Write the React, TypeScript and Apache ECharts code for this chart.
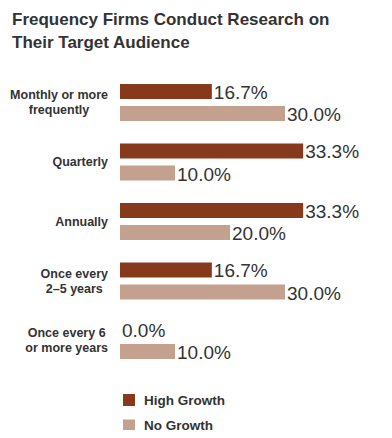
import React, { useEffect, useRef } from "react";
import * as echarts from "echarts";

const categories = [
  "Monthly or more\nfrequently",
  "Quarterly",
  "Annually",
  "Once every\n2–5 years",
  "Once every 6\nor more years",
];
const highGrowth = [16.7, 33.3, 33.3, 16.7, 0.0];
const noGrowth = [30.0, 10.0, 20.0, 30.0, 10.0];
const seriesNames = ["High Growth", "No Growth"];
const titleText = "Frequency Firms Conduct Research on\nTheir Target Audience";

const FONT = "'Liberation Sans', Arial, Helvetica, sans-serif";

export default function App() {
  const ref = useRef<HTMLDivElement>(null);
  useEffect(() => {
    if (!ref.current) return;
    const chart = echarts.init(ref.current, null, { renderer: "svg" });
    const labelStyle = {
      show: true,
      position: "right",
      distance: 2,
      offset: [0, 1],
      fontFamily: FONT,
      fontSize: 19,
      color: "#333333",
      formatter: (p: any) => Number(p.value).toFixed(1) + "%",
    };
    chart.setOption({
      animation: false,
      backgroundColor: "#ffffff",
      title: {
        text: titleText,
        left: 12,
        top: 8,
        padding: 0,
        textStyle: {
          fontFamily: FONT,
          fontSize: 17,
          fontWeight: "bold",
          color: "#333333",
          lineHeight: 23,
        },
      },
      legend: {
        orient: "vertical",
        left: 123,
        top: 393,
        height: 45,
        padding: 0,
        itemWidth: 12,
        itemHeight: 12,
        itemGap: 11.5,
        icon: "rect",
        data: seriesNames,
        textStyle: {
          fontFamily: FONT,
          fontSize: 13.5,
          lineHeight: 14,
          fontWeight: "bold",
          color: "#333333",
          padding: [0, 0, 0, 4],
        },
      },
      grid: { left: 120, top: 72.75, width: 220, height: 297.5 },
      xAxis: {
        type: "value",
        min: 0,
        max: 40,
        show: false,
      },
      yAxis: {
        type: "category",
        inverse: true,
        data: categories,
        axisLine: { show: false },
        axisTick: { show: false },
        splitLine: { show: false },
        axisLabel: {
          margin: 12,
          align: "right",
          fontFamily: FONT,
          fontSize: 12.5,
          fontWeight: "bold",
          color: "#333333",
          lineHeight: 15,
          formatter: (v: string) =>
            v
              .split("\n")
              .map((s) => `{a|${s}}`)
              .join("\n"),
          rich: {
            a: {
              align: "center",
              fontFamily: FONT,
              fontSize: 12.5,
              fontWeight: "bold",
              color: "#333333",
              lineHeight: 15,
            },
          },
        },
      },
      series: [
        {
          name: seriesNames[0],
          type: "bar",
          data: highGrowth,
          barWidth: 15,
          barGap: "47%",
          itemStyle: { color: "#873A1B" },
          label: labelStyle,
        },
        {
          name: seriesNames[1],
          type: "bar",
          data: noGrowth,
          barWidth: 15,
          barGap: "47%",
          itemStyle: { color: "#C4A08F" },
          label: labelStyle,
        },
      ],
    });
    return () => chart.dispose();
  }, []);
  return <div ref={ref} style={{ width: 392, height: 438, margin: -8 }} />;
}
